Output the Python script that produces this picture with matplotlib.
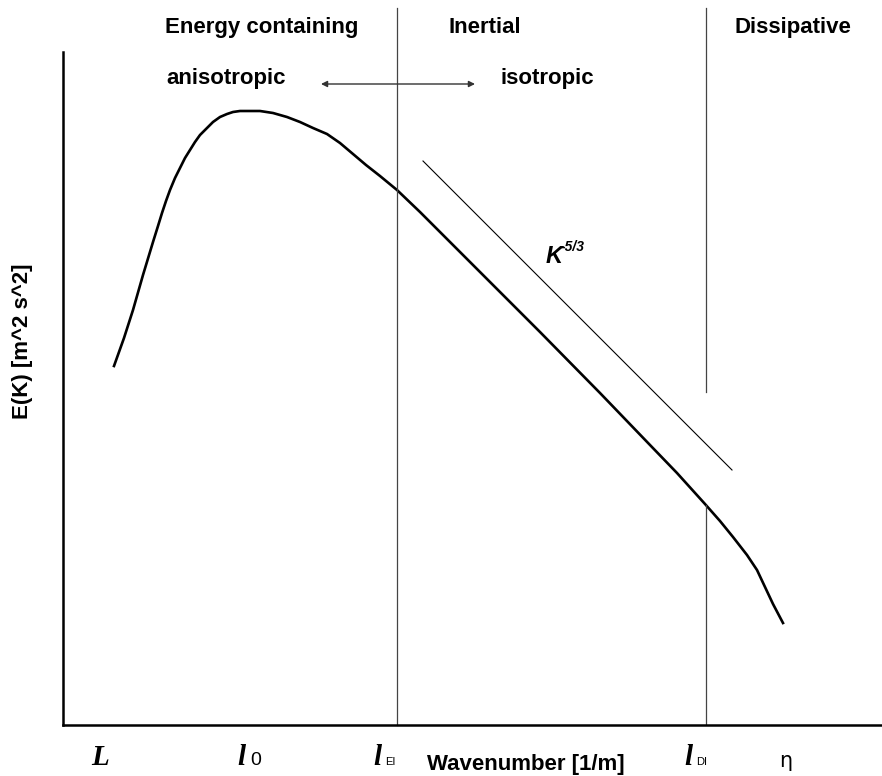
import numpy as np
import matplotlib.pyplot as plt

# spectrum curve (x = wavenumber position, y = energy position, screen units)
curve_x = [114, 124, 133, 143, 153, 158, 162, 166, 170, 175, 180, 185, 190, 195, 200, 207, 213, 220,
           227, 233, 240, 250, 260, 273, 287, 300, 313, 327, 340, 353, 366, 380, 397, 420, 480,
           540, 600, 650, 677, 705, 720, 733, 747, 757, 765, 773, 783]
curve_y = [366, 338, 310, 275, 242, 226, 213, 201, 190, 178, 168, 158, 150, 142, 135, 128, 122, 117,
           114, 112, 111, 111, 111, 113, 117, 122, 128, 134, 143, 154, 165, 176, 190, 212, 272,
           332, 393, 445, 473, 504, 521, 537, 555, 570, 587, 604, 623]

# K^-5/3 reference slope
ref_x = [423, 732]
ref_y = [161, 470]

# region boundaries
bound_x = [397, 706]
bound_top = [8, 8]
bound_bottom = [725, 392]
low_seg_x = 706
low_seg_y = [505, 725]

region_labels = ['Energy containing', 'Inertial', 'Dissipative']
region_x = [165, 449, 735]

scale_subs = ['0', 'EI', 'DI']
scale_l_x = [241, 377, 688]

plt.rcParams['font.family'] = ['Liberation Sans', 'DejaVu Sans']

fig = plt.figure(figsize=(8.82, 7.76), dpi=100)
W, H = 882, 776
ax = fig.add_axes([63 / W, (H - 725) / H, 1 - 63 / W, (725 - 52) / H])
ax.set_xlim(63, 882)
ax.set_ylim(725, 52)
ax.set_xticks([])
ax.set_yticks([])
for s in ['top', 'right']:
    ax.spines[s].set_visible(False)
ax.spines['left'].set_linewidth(1.8)
ax.spines['bottom'].set_linewidth(1.8)

ax.plot(curve_x, curve_y, color='black', lw=1.9, solid_joinstyle='round')
ax.plot(ref_x, ref_y, color='black', lw=0.8)

for bx, bt, bb in zip(bound_x, bound_top, bound_bottom):
    ax.plot([bx, bx], [bt, bb], color='#444444', lw=0.9, clip_on=False)
ax.plot([low_seg_x, low_seg_x], low_seg_y, color='#444444', lw=0.9)

# top annotations
for lab, x in zip(region_labels, region_x):
    ax.text(x, 33, lab, fontsize=16, fontweight='bold', va='baseline', ha='left')
ax.text(166, 84, 'anisotropic', fontsize=16, fontweight='bold', va='baseline', ha='left')
ax.text(501, 84, 'isotropic', fontsize=16, fontweight='bold', va='baseline', ha='left')
ax.annotate('', xy=(321, 84), xytext=(475, 84), annotation_clip=False,
            arrowprops=dict(arrowstyle='<|-|>', color='#333333', lw=1.0,
                            mutation_scale=9, shrinkA=0, shrinkB=0))

ax.text(546, 263, 'K', fontsize=17, fontweight='bold', fontstyle='italic', va='baseline', ha='left')
ax.text(561, 251, '-5/3', fontsize=10, fontweight='bold', fontstyle='italic', va='baseline', ha='left')

# bottom scale labels
serif = ['Liberation Serif', 'DejaVu Serif']
ax.text(100, 765, 'L', family=serif, fontsize=21, fontweight='bold', fontstyle='italic',
        ha='center', va='baseline', clip_on=False)
for x, sub in zip(scale_l_x, scale_subs):
    ax.text(x, 765, 'l', family=serif, fontsize=21, fontweight='bold', fontstyle='italic',
            ha='center', va='baseline', clip_on=False)
    if sub == '0':
        ax.text(x + 9, 765, sub, fontsize=14, ha='left', va='baseline')
    else:
        ax.text(x + 8, 765, sub, fontsize=8, ha='left', va='baseline')
ax.text(786, 767, 'η', family=['DejaVu Sans'], fontsize=15, ha='center', va='baseline')
ax.text(526, 770, 'Wavenumber [1/m]', fontsize=16, fontweight='bold', ha='center', va='baseline')

fig.text(23 / W, 1 - 341 / H, 'E(K) [m^2 s^2]', rotation=90, fontsize=16, fontweight='bold',
         ha='center', va='center')

fig.savefig('out.png', dpi=100)
